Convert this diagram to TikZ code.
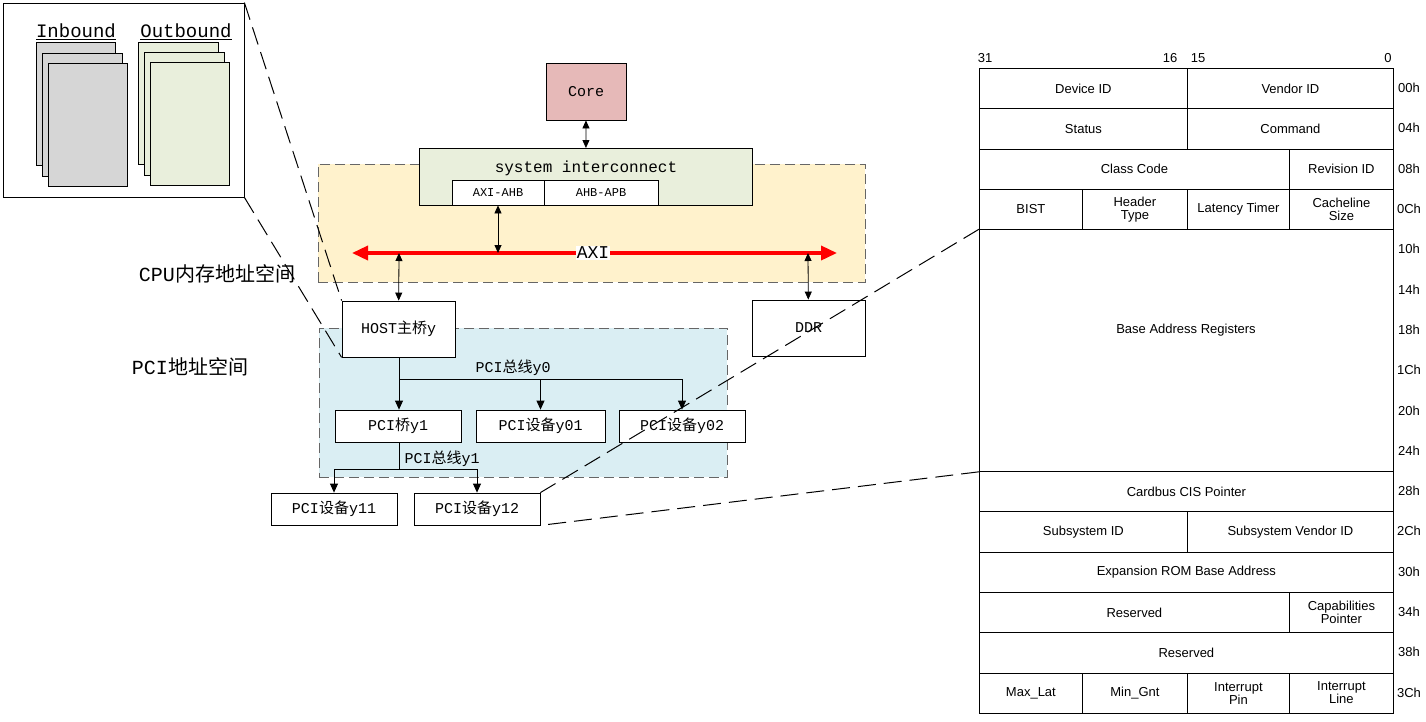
\documentclass[tikz,border=0pt]{standalone}
\usepackage{fontspec}
\setmainfont{Liberation Mono}
\setsansfont{Liberation Sans}
\newfontfamily\cjk{Noto Sans CJK SC}
\newcommand{\zh}[1]{{\cjk #1}}
\usetikzlibrary{arrows.meta}
\definecolor{pgray}{HTML}{D6D6D6}
\definecolor{pgreen}{HTML}{E9EFDC}
\definecolor{pcore}{HTML}{E6B9B8}
\definecolor{pyel}{HTML}{FFF2CC}
\definecolor{pblue}{HTML}{DAEEF3}
\begin{document}
\begin{tikzpicture}[x=1pt,y=-1pt,
  box/.style={draw,line width=0.8pt,fill=white,inner sep=0pt,font=\fontsize{15}{17}\selectfont},
  sub/.style={box,font=\fontsize{12}{14}\selectfont},
  area/.style={draw=gray!80!black,dash pattern=on 10pt off 5pt,line width=1pt},
  zoomline/.style={dash pattern=on 18pt off 8pt,line width=1pt},
  dbl/.style={{Triangle[width=7pt,length=8pt]}-{Triangle[width=7pt,length=8pt]},line width=0.8pt},
  down/.style={-{Triangle[width=8pt,length=9pt]},line width=0.8pt},
  cell/.style={draw,line width=0.8pt,font=\sffamily\fontsize{13}{13}\selectfont,align=center},
  off/.style={font=\sffamily\fontsize{13}{14}\selectfont}]
\useasboundingbox (0,0) rectangle (1426,721);

% inbound / outbound detail
\node[draw,line width=0.8pt,minimum width=241pt,minimum height=194pt,inner sep=0pt] (det) at (123.5,100) {};
\foreach \a/\b/\c/\d in {36/42/115/165,42/53/122/176,48/63/127/186}
  \draw[fill=pgray,line width=0.8pt] (\a,\b) rectangle (\c,\d);
\foreach \a/\b/\c/\d in {138/42/218/164,144/52/224/175,150/62/229/185}
  \draw[fill=pgreen,line width=0.8pt] (\a,\b) rectangle (\c,\d);
\node[font=\fontsize{19}{21}\selectfont] (inb) at (76,32) {\underline{Inbound}};
\node[font=\fontsize{19}{21}\selectfont] (outb) at (186,32) {\underline{Outbound}};

% areas
\node[area,fill=pyel,minimum width=547pt,minimum height=118pt,inner sep=0pt] (cpu) at (591.5,223) {};
\node[area,fill=pblue,minimum width=408pt,minimum height=149pt,inner sep=0pt] (pci) at (523,402.5) {};
\node[font=\fontsize{20}{22}\selectfont] (cpul) at (217,274) {CPU\zh{内存地址空间}};
\node[font=\fontsize{20}{22}\selectfont] (pcil) at (190,367) {PCI\zh{地址空间}};

% cpu side
\node[box,fill=pcore,minimum width=80pt,minimum height=57pt] (core) at (586,91.5) {Core};
\node[box,fill=pgreen,minimum width=333pt,minimum height=57pt,anchor=north west] (sys) at (419,148) {};
\node[font=\fontsize{16}{18}\selectfont] (sysl) at (586,168) {system interconnect};
\node[sub,minimum width=92pt,minimum height=25pt] (ah) at (498,192.5) {AXI-AHB};
\node[sub,minimum width=114pt,minimum height=25pt] (ap) at (601,192.5) {AHB-APB};
\coordinate (axl) at (352,253);
\coordinate (axr) at (837,253);
\draw[red,line width=3.5pt,{Triangle[width=14pt,length=16pt]}-{Triangle[width=14pt,length=16pt]}] (axl) -- (axr);
\node[fill=white,inner sep=1pt,font=\fontsize{18}{20}\selectfont] (axi) at (593,253) {AXI};
\coordinate (a1) at (399,253);
\coordinate (a2) at (498,253);
\coordinate (a3) at (808,253);
\node[box,minimum width=113pt,minimum height=56pt] (host) at (398.5,329) {HOST\zh{主桥}y};
\node[box,minimum width=113pt,minimum height=56pt] (ddr) at (808.5,328) {DDR};
\draw[dbl] (core) -- (sys);
\draw[dbl] (ah) -- (a2);
\draw[dbl] (a1) -- (host);
\draw[dbl] (a3) -- (ddr);

% pci tree
\node[box,minimum width=126pt,minimum height=32pt] (br) at (398,426) {PCI\zh{桥}y1};
\node[box,minimum width=129pt,minimum height=32pt] (d01) at (540.5,426) {PCI\zh{设备}y01};
\node[box,minimum width=126pt,minimum height=32pt] (d02) at (682,426) {PCI\zh{设备}y02};
\node[box,minimum width=126pt,minimum height=32pt] (d11) at (334,509) {PCI\zh{设备}y11};
\node[box,minimum width=126pt,minimum height=32pt] (d12) at (477,509) {PCI\zh{设备}y12};
\coordinate (b0) at (399,379);
\coordinate (b1) at (399,469);
\draw[line width=0.8pt] (host.south -| b0) -- (b0) -- (b0 -| d02.north);
\draw[down] (b0) -- (br.north -| b0);
\draw[down] (b0 -| d01.north) -- (d01.north);
\draw[down] (b0 -| d02.north) -- (d02.north);
\node[font=\fontsize{15}{17}\selectfont] (bl0) at (513,368) {PCI\zh{总线}y0};
\draw[line width=0.8pt] (br.south -| b1) -- (b1);
\draw[line width=0.8pt] (b1 -| d11.north) -- (b1 -| d12.north);
\draw[down] (b1 -| d11.north) -- (d11.north);
\draw[down] (b1 -| d12.north) -- (d12.north);
\node[font=\fontsize{15}{17}\selectfont] (bl1) at (442,459) {PCI\zh{总线}y1};

% config header table
\foreach \t/\x in {31/985,16/1170,15/1198,0/1388}
  \node[off] at (\x,58) {\t};
\newcommand{\cl}[5]{\node[cell,minimum width=#3-#2 pt,minimum height=40.3*#5 pt,inner sep=0pt,anchor=north west] at (#2,{68+40.3*#4}) {#1};}
\cl{Device ID}{979}{1187}{0}{1}
\cl{Vendor ID}{1187}{1393}{0}{1}
\cl{Status}{979}{1187}{1}{1}
\cl{Command}{1187}{1393}{1}{1}
\cl{Class Code}{979}{1289}{2}{1}
\cl{Revision ID}{1289}{1393}{2}{1}
\cl{BIST}{979}{1082}{3}{1}
\cl{Header\\Type}{1082}{1187}{3}{1}
\cl{Latency Timer}{1187}{1289}{3}{1}
\cl{Cacheline\\Size}{1289}{1393}{3}{1}
\node[cell,minimum width=414pt,minimum height=241.8pt,inner sep=0pt,anchor=north west] (bar) at (979,{68+40.3*4}) {};
\node[off] (barl) at (1186,330) {Base Address Registers};
\cl{Cardbus CIS Pointer}{979}{1393}{10}{1}
\cl{Subsystem ID}{979}{1187}{11}{1}
\cl{Subsystem Vendor ID}{1187}{1393}{11}{1}
\cl{Expansion ROM Base Address}{979}{1393}{12}{1}
\cl{Reserved}{979}{1289}{13}{1}
\cl{Capabilities\\Pointer}{1289}{1393}{13}{1}
\cl{Reserved}{979}{1393}{14}{1}
\cl{Max\_Lat}{979}{1082}{15}{1}
\cl{Min\_Gnt}{1082}{1187}{15}{1}
\cl{Interrupt\\Pin}{1187}{1289}{15}{1}
\cl{Interrupt\\Line}{1289}{1393}{15}{1}
\foreach \o [count=\i from 0] in {00h,04h,08h,0Ch,10h,14h,18h,1Ch,20h,24h,28h,2Ch,30h,34h,38h,3Ch}
  \node[off] at (1409,{68+40.3*\i+20}) {\o};

% zoom lines
\draw[zoomline] (det.north east) -- (host.north west);
\draw[zoomline] (det.south east) -- (host.south west);
\draw[zoomline] (bar.north west) -- (d12.north east);
\draw[zoomline] (bar.south west) -- (d12.south east);
\end{tikzpicture}
\end{document}
